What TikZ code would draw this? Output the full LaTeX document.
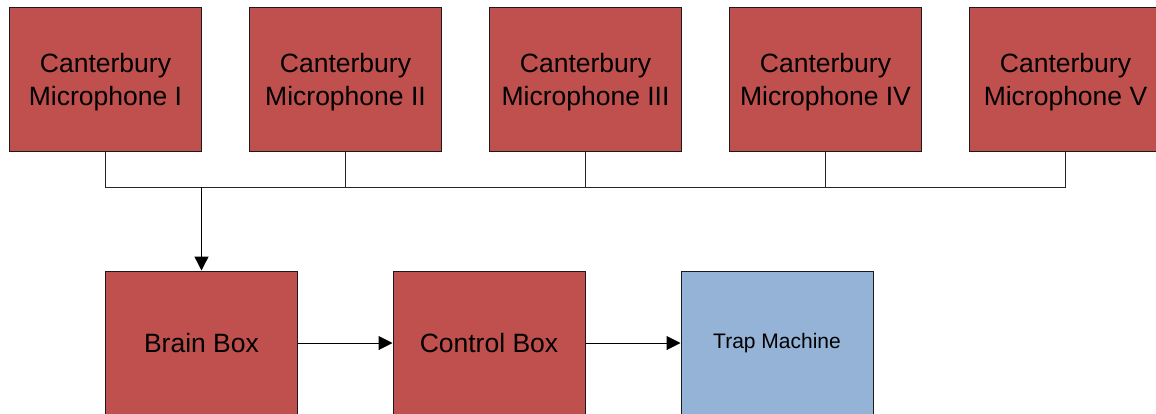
\documentclass[tikz,border=0pt]{standalone}
\usepackage{fontspec}
\setmainfont{Liberation Sans}
\usetikzlibrary{arrows.meta}
\definecolor{boxred}{HTML}{C0504D}
\definecolor{boxblue}{HTML}{95B3D7}
\definecolor{edgecol}{HTML}{1A1A1A}
\tikzset{
  redbox/.style={draw=edgecol, line width=1pt, fill=boxred, minimum width=192pt, minimum height=144pt, inner sep=0pt},
  bluebox/.style={draw=edgecol, line width=1pt, fill=boxblue, minimum width=192pt, minimum height=144pt, inner sep=0pt},
  bigtext/.style={align=center, inner sep=0pt, font=\fontsize{26.5}{33}\selectfont},
  smalltext/.style={align=center, inner sep=0pt, font=\fontsize{21}{26}\selectfont},
  wire/.style={draw=black!85, line width=1pt},
  arr/.style={draw=black, line width=1pt, -{Triangle[length=14pt,width=14pt]}}
}
\begin{document}
\begin{tikzpicture}[x=1pt,y=-1pt]
\useasboundingbox (0,0) rectangle (1156,413);
\clip (0,0) rectangle (1156,413);
\node[redbox] (m1) at (105.5,79) {};
\node[redbox] (m2) at (345.5,79) {};
\node[redbox] (m3) at (585.5,79) {};
\node[redbox] (m4) at (825.5,79) {};
\node[redbox] (m5) at (1065.5,79) {};
\node[bigtext] (t1) at ([yshift=-3pt]m1.center) {Canterbury\\Microphone I};
\node[bigtext] (t2) at ([yshift=-3pt]m2.center) {Canterbury\\Microphone II};
\node[bigtext] (t3) at ([yshift=-3pt]m3.center) {Canterbury\\Microphone III};
\node[bigtext] (t4) at ([yshift=-3pt]m4.center) {Canterbury\\Microphone IV};
\node[bigtext] (t5) at ([yshift=-3pt]m5.center) {Canterbury\\Microphone V};
\node[redbox] (brain) at (201.5,343) {};
\node[bigtext] (tb) at (brain.center) {Brain Box};
\node[redbox] (ctrl) at (489,343) {};
\node[bigtext] (tc) at (ctrl.center) {Control Box};
\node[bluebox] (trap) at (777,343) {};
\node[smalltext] (tt) at (trap.center) {Trap Machine};
\coordinate (bus) at (0,187);
\draw[wire] (m1.south) -- (m1.south |- bus) -- (m5.south |- bus) -- (m5.south);
\draw[wire] (m2.south) -- (m2.south |- bus);
\draw[wire] (m3.south) -- (m3.south |- bus);
\draw[wire] (m4.south) -- (m4.south |- bus);
\draw[arr, line width=1.4pt] (brain.north |- bus) -- (brain.north);
\draw[arr] (brain.east) -- (ctrl.west);
\draw[arr] (ctrl.east) -- (trap.west);
\end{tikzpicture}
\end{document}
